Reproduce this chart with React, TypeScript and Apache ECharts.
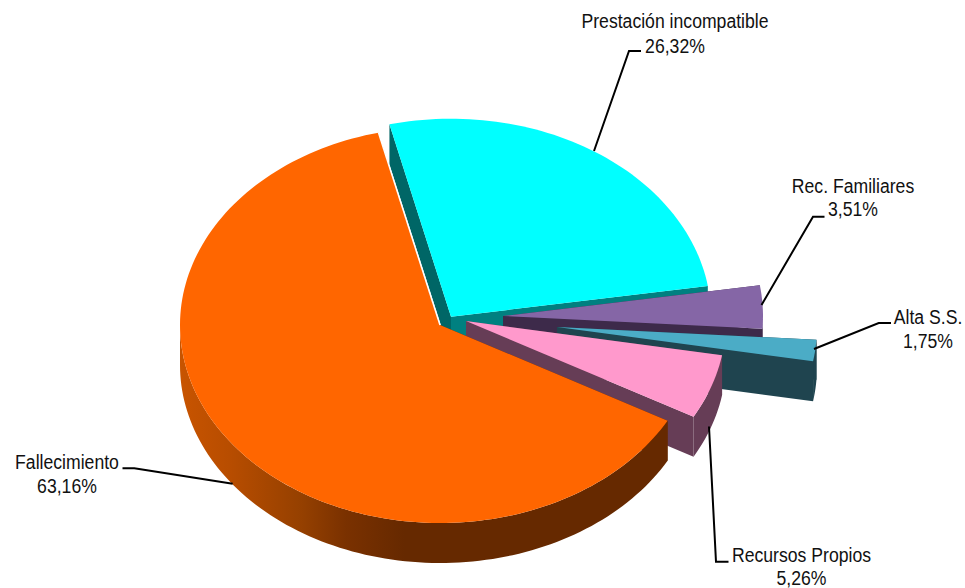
import React, { useEffect, useRef } from "react";
import * as echarts from "echarts";

const categories = ["Prestación incompatible", "Rec. Familiares", "Alta S.S.", "Recursos Propios", "Fallecimiento"];
const values = [26.32, 3.51, 1.75, 5.26, 63.16];

const RX = 260;
const RY = 198;
const DEPTH = 40;
const START_DEG = 256.3;
const FONT = '21px "Liberation Sans", Arial, sans-serif';
const TEXT_SQUEEZE = 0.84;

const apexes = [[451, 316.7], [503, 316], [557, 327], [466, 321], [440, 325]];
const topColors = ["#00FFFF", "#8566A6", "#4BACC6", "#FF99CC", "#FF6600"];
const startWallColors = ["#006666", "#3D2A4A", "#1F444F", "#663D56", "#662900"];
const endWallColors = ["#008080", "#3D2A4A", "#1F444F", "#663D56", "#662900"];
const arcWallColors = ["#006666", "#3D2A4A", "#1F444F", "#663D56", null];
const orangeWallStops = [
  { offset: 0, color: "#C85400" },
  { offset: 0.1, color: "#B84D00" },
  { offset: 0.25, color: "#954000" },
  { offset: 0.34, color: "#7A3100" },
  { offset: 0.46, color: "#662900" },
  { offset: 1, color: "#662900" },
];
const leaders = [
  [[594, 151], [629, 51], [641, 51]],
  [[761.5, 305], [813, 216.7], [824.5, 216.7]],
  [[814, 349], [878.7, 323], [891, 323]],
  [[709, 426.5], [716, 561.7], [728.5, 561.7]],
  [[232.7, 483.7], [134.3, 468.3], [122.5, 468.3]],
];
const labelAnchors = [
  [675, 20, 45],
  [853, 185, 208],
  [928, 316, 340],
  [801.5, 554, 577],
  [67, 461, 485],
];

const total = values.reduce((a, b) => a + b, 0);
const pct = (v: number) => v.toFixed(2).replace(".", ",") + "%";

function arcPts(cx: number, cy: number, a0: number, a1: number): number[][] {
  const n = Math.max(2, Math.ceil((a1 - a0) / 1.5));
  const out: number[][] = [];
  for (let i = 0; i <= n; i++) {
    const t = ((a0 + ((a1 - a0) * i) / n) * Math.PI) / 180;
    out.push([cx + RX * Math.cos(t), cy + RY * Math.sin(t)]);
  }
  return out;
}

function renderItem(params: any, api: any) {
  const i = params.dataIndex;
  const value = api.value(0);
  let before = 0;
  for (let k = 0; k < i; k++) before += values[k];
  const a0 = START_DEG + (before / total) * 360;
  const a1 = a0 + (value / total) * 360;
  const [cx, cy] = apexes[i];
  const arc = arcPts(cx, cy, a0, a1);
  const first = arc[0];
  const last = arc[arc.length - 1];
  const children: any[] = [];

  const wall = (p: number[], fill: string) => ({
    type: "polygon",
    silent: true,
    shape: { points: [[cx, cy], p, [p[0], p[1] + DEPTH], [cx, cy + DEPTH]] },
    style: { fill },
  });
  children.push(wall(first, startWallColors[i]));
  children.push(wall(last, endWallColors[i]));

  // outer rim: only the part that faces the viewer (0..180 degrees, modulo 360)
  for (const off of [0, 360]) {
    const lo = Math.max(a0, off);
    const hi = Math.min(a1, off + 180);
    if (hi > lo) {
      const pts = arcPts(cx, cy, lo, hi);
      const lower = pts.map((p) => [p[0], p[1] + DEPTH]).reverse();
      const col = arcWallColors[i];
      children.push({
        type: "polygon",
        silent: true,
        shape: { points: pts.concat(lower) },
        style: { fill: col || new echarts.graphic.LinearGradient(0, 0, 1, 0, orangeWallStops) },
      });
    }
  }

  children.push({
    type: "polygon",
    silent: true,
    shape: { points: [[cx, cy], ...arc] },
    style: { fill: topColors[i] },
  });

  if (i === values.length - 1) {
    children.push({
      type: "line",
      silent: true,
      shape: { x1: cx, y1: cy, x2: last[0], y2: last[1] },
      style: { stroke: "#FFFFFF", lineWidth: 1.5 },
    });
  }

  return { type: "group", children };
}

function renderLabels(params: any, api: any) {
  const i = params.dataIndex;
  const [lx, y1, y2] = labelAnchors[i];
  const textEl = (text: string, y: number) => ({
    type: "text",
    silent: true,
    x: lx,
    y,
    scaleX: TEXT_SQUEEZE,
    style: { text, fill: "#111111", font: FONT, textAlign: "center", textVerticalAlign: "middle" },
  });
  return {
    type: "group",
    children: [
      { type: "polyline", silent: true, shape: { points: leaders[i] }, style: { stroke: "#000000", lineWidth: 2, fill: "none" } },
      textEl(categories[i], y1),
      textEl(pct(api.value(0)), y2),
    ],
  };
}

export default function App() {
  const ref = useRef<HTMLDivElement>(null);
  useEffect(() => {
    const chart = echarts.init(ref.current!, undefined, { renderer: "svg" });
    chart.setOption({
      animation: false,
      backgroundColor: "#FFFFFF",
      tooltip: { show: false },
      series: [
        { type: "custom", coordinateSystem: "none", data: values.map((v) => [v]), renderItem, z: 2, clip: false },
        { type: "custom", coordinateSystem: "none", data: values.map((v) => [v]), renderItem: renderLabels, z: 3, clip: false },
      ],
    });
    return () => chart.dispose();
  }, []);
  return <div ref={ref} style={{ position: "absolute", left: 0, top: 0, width: 965, height: 588 }} />;
}
